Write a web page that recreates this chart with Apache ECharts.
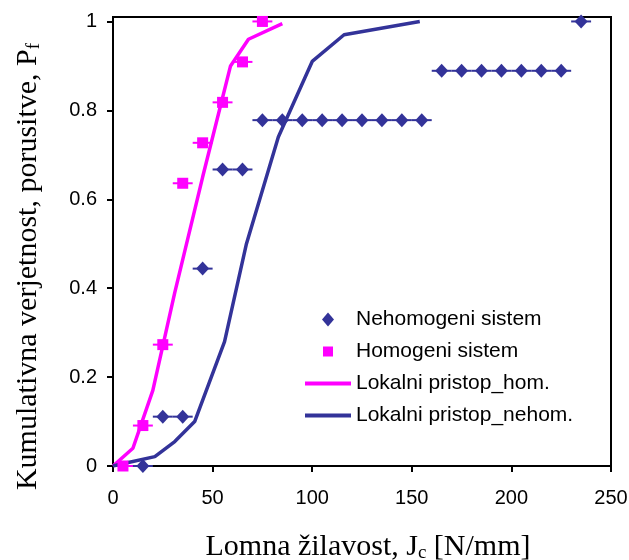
<!DOCTYPE html>
<html>
<head>
<meta charset="utf-8">
<script src="https://cdn.jsdelivr.net/npm/echarts@6/dist/echarts.min.js"></script>
<style>html,body{margin:0;padding:0;background:#fff}#c{width:629px;height:560px}</style>
</head>
<body>
<div id="c"></div>
<script>
// ---- data ----
const nehomX = [15, 25, 35, 45, 55, 65, 75, 85, 95, 105, 115, 125, 135, 145, 155, 165, 175, 185, 195, 205, 215, 225, 235];
const nehomY = [0, 0.111, 0.111, 0.444, 0.667, 0.667, 0.778, 0.778, 0.778, 0.778, 0.778, 0.778, 0.778, 0.778, 0.778, 0.889, 0.889, 0.889, 0.889, 0.889, 0.889, 0.889, 1.0];
const homX = [5, 15, 25, 35, 45, 55, 65, 75];
const homY = [0, 0.091, 0.273, 0.636, 0.727, 0.818, 0.909, 1.0];
const errHalf = 5; // horizontal error half-width
const lineHomX = [0, 10, 20, 31, 45, 59, 68, 85];
const lineHomY = [0, 0.04, 0.17, 0.39, 0.65, 0.9, 0.96, 0.995];
const lineNehomX = [0, 6, 21, 31, 41, 56, 67, 83, 100, 116, 154];
const lineNehomY = [0, 0.006, 0.021, 0.055, 0.10, 0.28, 0.50, 0.74, 0.91, 0.97, 1.0];
const xTicks = [0, 50, 100, 150, 200, 250];
const yTicks = [0, 0.2, 0.4, 0.6, 0.8, 1];

const NAVY = '#333399', MAG = '#FF00FF';
const zip = (a, b) => a.map((v, i) => [v, b[i]]);
const SERIF = 'Liberation Serif, Times New Roman, serif';
const SANS = 'Liberation Sans, Arial, sans-serif';

// legend icons: marker centred in a 46x14 box (keeps marker aspect)
const ICON_DIAMOND = 'path://M0,7 M46,7 M17,7 L23,0 L29,7 L23,14 Z';
const ICON_SQUARE = 'path://M0,0 M46,14 M18,2 L28,2 L28,12 L18,12 Z';

function errBar(color) {
  return function (params, api) {
    const x = api.value(0), y = api.value(1);
    const p1 = api.coord([x - errHalf, y]);
    const p2 = api.coord([x + errHalf, y]);
    return {
      type: 'line',
      shape: { x1: p1[0], y1: p1[1], x2: p2[0], y2: p2[1] },
      style: { stroke: color, lineWidth: 2 }
    };
  };
}

const chart = echarts.init(document.getElementById('c'));
chart.setOption({
  animation: false,
  backgroundColor: '#fff',
  grid: { left: 113, right: 18, top: 17, bottom: 94, outerBoundsMode: 'none', containLabel: false,
    show: true, borderColor: '#000', borderWidth: 2, backgroundColor: 'transparent' },
  xAxis: {
    type: 'value', min: 0, max: 250, interval: 50,
    axisLine: { show: true, lineStyle: { color: '#000', width: 2 } },
    axisTick: { show: true, inside: false, length: 6, lineStyle: { color: '#000', width: 2 } },
    axisLabel: { margin: 22, color: '#000', fontSize: 20, fontFamily: SANS },
    splitLine: { show: false },
    name: '{a|Lomna žilavost, J}{s|c}{a| [N/mm]}',
    nameLocation: 'middle', nameGap: 64,
    nameTextStyle: {
      color: '#000', padding: [0, 0, 0, 12],
      rich: {
        a: { fontSize: 30, fontFamily: SERIF, color: '#000', lineHeight: 34 },
        s: { fontSize: 19, fontFamily: SERIF, color: '#000', lineHeight: 34, padding: [13, 0, 0, 0] }
      }
    }
  },
  yAxis: {
    type: 'value', min: 0, max: 1.01,
    axisLine: { show: true, lineStyle: { color: '#000', width: 2 } },
    axisTick: { show: true, inside: false, length: 6, lineStyle: { color: '#000', width: 2 }, customValues: yTicks },
    axisLabel: { margin: 16, color: '#000', fontSize: 20, fontFamily: SANS, customValues: yTicks,
      formatter: v => (Math.abs(v - 1) < 1e-9 ? '1' : (v === 0 ? '0' : String(+v.toFixed(1)))) },
    splitLine: { show: false },
    name: '{a|Kumulativna verjetnost, porusitve, P}{s|f}',
    nameLocation: 'middle', nameGap: 68, nameRotate: 90,
    nameTextStyle: {
      color: '#000', padding: [0, 50, 0, 0],
      rich: {
        a: { fontSize: 30, fontFamily: SERIF, color: '#000', lineHeight: 34 },
        s: { fontSize: 19, fontFamily: SERIF, color: '#000', lineHeight: 34, padding: [13, 0, 0, 0] }
      }
    }
  },
  legend: {
    orient: 'vertical', left: 298, top: 304, itemGap: 11, itemWidth: 46, itemHeight: 14,
    textStyle: { color: '#000', fontSize: 21, fontFamily: SANS },
    data: [
      { name: 'Nehomogeni sistem', icon: ICON_DIAMOND },
      { name: 'Homogeni sistem', icon: ICON_SQUARE },
      { name: 'Lokalni pristop_hom.', itemStyle: { opacity: 0, borderWidth: 0 }, lineStyle: { width: 4, color: MAG } },
      { name: 'Lokalni pristop_nehom.', itemStyle: { opacity: 0, borderWidth: 0 }, lineStyle: { width: 4, color: NAVY } }
    ]
  },
  series: [
    { type: 'custom', name: 'errNehom', renderItem: errBar(NAVY), data: zip(nehomX, nehomY), z: 2, silent: true },
    { type: 'custom', name: 'errHom', renderItem: errBar(MAG), data: zip(homX, homY), z: 2, silent: true },
    { type: 'line', name: 'Lokalni pristop_hom.', data: zip(lineHomX, lineHomY), showSymbol: false, symbol: 'none',
      lineStyle: { color: MAG, width: 3.5 }, itemStyle: { color: MAG }, z: 3 },
    { type: 'line', name: 'Lokalni pristop_nehom.', data: zip(lineNehomX, lineNehomY), showSymbol: false, symbol: 'none',
      lineStyle: { color: NAVY, width: 3.5 }, itemStyle: { color: NAVY }, z: 3 },
    { type: 'scatter', name: 'Nehomogeni sistem', data: zip(nehomX, nehomY), symbol: 'diamond', symbolSize: [13, 14],
      itemStyle: { color: NAVY, opacity: 1 }, z: 4 },
    { type: 'scatter', name: 'Homogeni sistem', data: zip(homX, homY), symbol: 'rect', symbolSize: 11,
      itemStyle: { color: MAG, opacity: 1 }, z: 4 }
  ]
});
</script>
</body>
</html>
